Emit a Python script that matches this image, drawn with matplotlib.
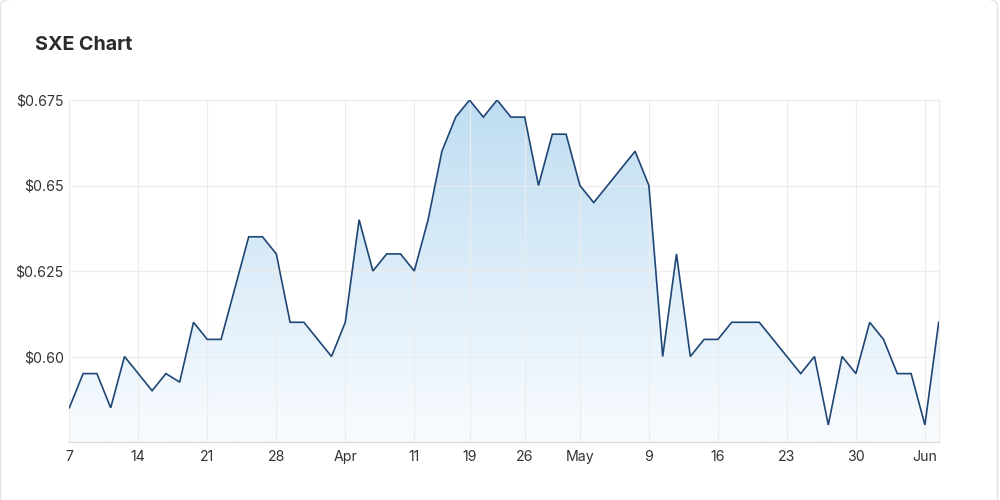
import matplotlib
matplotlib.use("Agg")
import matplotlib.pyplot as plt
import numpy as np
from matplotlib.patches import FancyBboxPatch, Polygon
from matplotlib.colors import LinearSegmentedColormap

# Trading days (ordinal axis, like Highstock)
dates = [
    "2022-03-07", "2022-03-08", "2022-03-09", "2022-03-10", "2022-03-11",
    "2022-03-14", "2022-03-15", "2022-03-16", "2022-03-17", "2022-03-18",
    "2022-03-21", "2022-03-22", "2022-03-23", "2022-03-24", "2022-03-25",
    "2022-03-28", "2022-03-29", "2022-03-30", "2022-03-31", "2022-04-01",
    "2022-04-04", "2022-04-05", "2022-04-06", "2022-04-07", "2022-04-08",
    "2022-04-11", "2022-04-12", "2022-04-13", "2022-04-14",
    "2022-04-19", "2022-04-20", "2022-04-21", "2022-04-22",
    "2022-04-26", "2022-04-27", "2022-04-28", "2022-04-29",
    "2022-05-02", "2022-05-03", "2022-05-04", "2022-05-05", "2022-05-06",
    "2022-05-09", "2022-05-10", "2022-05-11", "2022-05-12", "2022-05-13",
    "2022-05-16", "2022-05-17", "2022-05-18", "2022-05-19", "2022-05-20",
    "2022-05-23", "2022-05-24", "2022-05-25", "2022-05-26", "2022-05-27",
    "2022-05-30", "2022-05-31", "2022-06-01", "2022-06-02", "2022-06-03",
    "2022-06-06", "2022-06-07",
]
prices = [
    0.585, 0.595, 0.595, 0.585, 0.600,
    0.595, 0.590, 0.595, 0.5925, 0.610,
    0.605, 0.605, 0.620, 0.635, 0.635,
    0.630, 0.610, 0.610, 0.605, 0.600,
    0.610, 0.640, 0.625, 0.630, 0.630,
    0.625, 0.640, 0.660, 0.670,
    0.675, 0.670, 0.675, 0.670,
    0.670, 0.650, 0.665, 0.665,
    0.650, 0.645, 0.650, 0.655, 0.660,
    0.650, 0.600, 0.630, 0.600, 0.605,
    0.605, 0.610, 0.610, 0.610, 0.605,
    0.600, 0.595, 0.600, 0.580, 0.600,
    0.595, 0.610, 0.605, 0.595, 0.595,
    0.580, 0.610,
]
tick_dates = ["2022-03-07", "2022-03-14", "2022-03-21", "2022-03-28", "2022-04-04",
              "2022-04-11", "2022-04-19", "2022-04-26", "2022-05-02", "2022-05-09",
              "2022-05-16", "2022-05-23", "2022-05-30", "2022-06-06"]
tick_labels = ["7", "14", "21", "28", "Apr", "11", "19", "26", "May", "9",
               "16", "23", "30", "Jun"]
y_ticks = [0.60, 0.625, 0.65, 0.675]
y_labels = ["$0.60", "$0.625", "$0.65", "$0.675"]
title = "SXE Chart"

plt.rcParams['font.family'] = ['Inter', 'DejaVu Sans']

fig = plt.figure(figsize=(10, 5), dpi=100)
fig.patch.set_facecolor("white")

# card border
card = FancyBboxPatch((0.0005, -0.05), 0.997, 1.0515,
                      boxstyle="round,pad=0,rounding_size=0.012",
                      transform=fig.transFigure, facecolor="none",
                      edgecolor="#e3e3e3", linewidth=1.0, zorder=-1)
fig.patches.append(card)

fig.text(0.035, 0.909, title, fontsize=14.2, fontweight="bold",
         color="#2b2b2b", ha="left", va="center")

ax = fig.add_axes([0.0693, 0.116, 0.8694, 0.684])
ax.set_facecolor("none")

x = np.arange(len(prices))
y = np.array(prices)
ymin, ymax = 0.575, 0.675
ax.set_xlim(0, len(prices) - 1)
ax.set_ylim(ymin, ymax)

# gradient fill
cmap = LinearSegmentedColormap.from_list("g", ["#f9fcff", "#bfddf2"])
grad = np.linspace(0, 1, 256).reshape(-1, 1)
im = ax.imshow(grad, cmap=cmap, aspect="auto", origin="lower",
               extent=[0, len(prices) - 1, ymin, ymax], zorder=1)
verts = np.vstack([[x[0], ymin], np.column_stack([x, y]), [x[-1], ymin]])
poly = Polygon(verts, closed=True, facecolor="none", edgecolor="none")
ax.add_patch(poly)
im.set_clip_path(poly)

ax.plot(x, y, color="#1f4675", linewidth=1.2, zorder=3, solid_joinstyle="miter")

idx = {d: i for i, d in enumerate(dates)}
ax.set_xticks([idx[d] for d in tick_dates])
ax.set_xticklabels(tick_labels)
ax.set_yticks(y_ticks)
ax.set_yticklabels(y_labels)

ax.grid(True, color="#ececec", linewidth=0.8, zorder=2)
ax.set_axisbelow(False)
for s in ["top", "right", "left"]:
    ax.spines[s].set_color("#ececec")
    ax.spines[s].set_linewidth(0.8)
ax.spines["bottom"].set_color("#dcdcdc")
ax.spines["bottom"].set_linewidth(1.0)
ax.tick_params(axis="both", length=0, labelsize=10.2, labelcolor="#333333")
ax.tick_params(axis="x", pad=6)
ax.tick_params(axis="y", pad=4)

fig.savefig("out.png", dpi=100, facecolor="white")
